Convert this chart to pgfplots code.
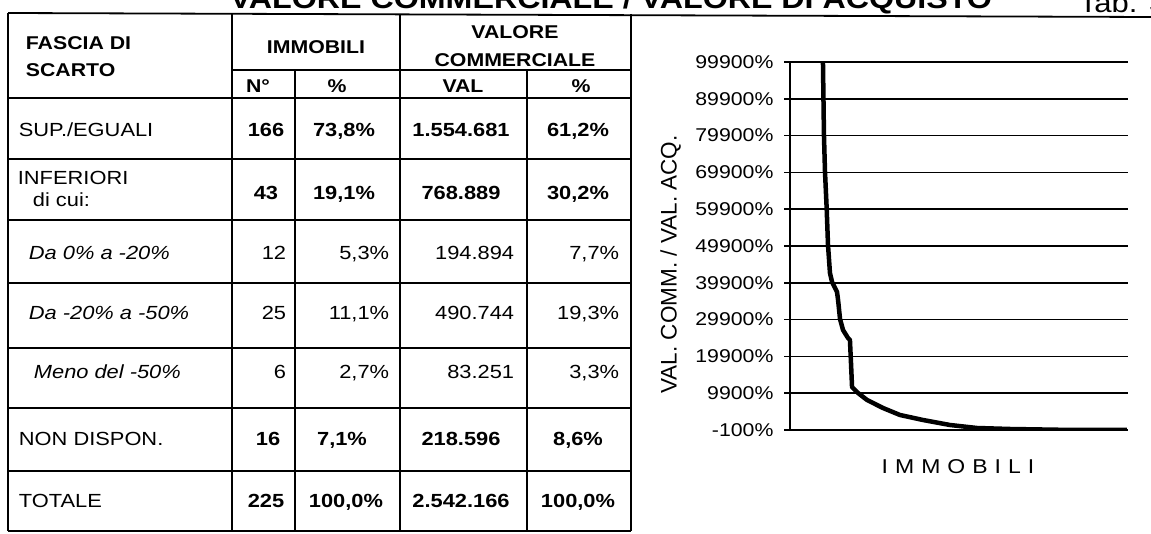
\documentclass[border=0pt]{standalone}
\usepackage{fontspec}
\setmainfont{Liberation Sans}[FakeStretch=1.15]
\newfontfamily\plainsans{Liberation Sans}
\usepackage{pgfplots}
\pgfplotsset{compat=1.18}

\newcommand\fs[1]{\fontsize{#1}{#1}\selectfont}

\begin{document}
\begin{tikzpicture}
\begin{scope}[x=1pt,y=-1pt,line width=1.8pt,every node/.style={inner sep=0pt,font=\fs{19}}]
% title (cut at the top edge, as in the scan)
\node[anchor=base west,font=\fs{28}\bfseries] at (229,9) {VALORE COMMERCIALE / VALORE DI ACQUISTO};
\node[anchor=base west,font=\fs{27}] at (1078,13) {Tab. 3};
% table grid
\draw (8,13) -- (1151,17);
\draw (8,13) -- (8,531);
\foreach \x in {232,400,631} \draw (\x,14) -- (\x,531);
\foreach \x in {295,527} \draw (\x,70) -- (\x,531);
\draw (232,70) -- (631,70);
\foreach \y in {98,159,220,283,348,408,471,531} \draw (8,\y) -- (631,\y);
% header
\begin{scope}[every node/.append style={font=\fs{18.5}\bfseries}]
\node[anchor=base west] at (25,50) {FASCIA DI};
\node[anchor=base west] at (25,77) {SCARTO};
\node[anchor=base] at (316,53.5) {IMMOBILI};
\node[anchor=base] at (515,38.5) {VALORE};
\node[anchor=base] at (515,66.5) {COMMERCIALE};
\node[anchor=base] at (258,92.5) {N°};
\node[anchor=base] at (337,92.5) {\%};
\node[anchor=base] at (463,92.5) {VAL};
\node[anchor=base] at (581,92.5) {\%};
\end{scope}
% rows
\node[anchor=base west] at (18,136.5) {SUP./EGUALI};
\node[anchor=base west] at (17,185) {INFERIORI};
\node[anchor=base west] at (32,207) {di cui:};
\node[anchor=base west,font=\fs{19}\itshape] at (28,259.5) {Da 0\% a -20\%};
\node[anchor=base west,font=\fs{19}\itshape] at (28,319.5) {Da -20\% a -50\%};
\node[anchor=base west,font=\fs{19}\itshape] at (33,378.5) {Meno del -50\%};
\node[anchor=base west] at (18,445.5) {NON DISPON.};
\node[anchor=base west] at (18,507.5) {TOTALE};
\begin{scope}[every node/.append style={font=\fs{19}\bfseries,anchor=base}]
\node at (266,136.5) {166}; \node at (344,136.5) {73,8\%};
\node at (461,136.5) {1.554.681}; \node at (578,136.5) {61,2\%};
\node at (266,199.5) {43}; \node at (344,199.5) {19,1\%};
\node at (461,199.5) {768.889}; \node at (578,199.5) {30,2\%};
\node at (268,445.5) {16}; \node at (342,445.5) {7,1\%};
\node at (461,445.5) {218.596}; \node at (578,445.5) {8,6\%};
\node at (266,507.5) {225}; \node at (346,507.5) {100,0\%};
\node at (461,507.5) {2.542.166}; \node at (578,507.5) {100,0\%};
\end{scope}
\begin{scope}[every node/.append style={anchor=base east}]
\node at (287,259.5) {12}; \node at (390,259.5) {5,3\%};
\node at (515,259.5) {194.894}; \node at (620,259.5) {7,7\%};
\node at (287,319.5) {25}; \node at (390,319.5) {11,1\%};
\node at (515,319.5) {490.744}; \node at (620,319.5) {19,3\%};
\node at (287,378.5) {6}; \node at (390,378.5) {2,7\%};
\node at (515,378.5) {83.251}; \node at (620,378.5) {3,3\%};
\end{scope}
\end{scope}

\begin{axis}[
  at={(790pt,-430pt)}, anchor=south west,
  scale only axis, width=338pt, height=368pt,
  xmin=0, xmax=225, ymin=-100, ymax=99900,
  axis lines*=left,
  axis line style={black,line width=2pt},
  xtick=\empty,
  scaled y ticks=false,
  ytick={-100,9900,19900,29900,39900,49900,59900,69900,79900,89900,99900},
  yticklabels={-100\%,9900\%,19900\%,29900\%,39900\%,49900\%,59900\%,69900\%,79900\%,89900\%,99900\%},
  ymajorgrids,
  grid style={black,line width=1.6pt},
  tick align=outside, major tick length=6pt,
  ytick style={black,line width=1.6pt},
  tick label style={font=\fs{18.5}},
  yticklabel style={xshift=-7pt},
  ylabel={VAL. COMM. / VAL. ACQ.},
  ylabel style={font=\plainsans\fs{22.5},at={(axis description cs:-0.353,0.45)},anchor=center},
  xlabel={I\hspace{7pt}M\hspace{7pt}M\hspace{7pt}O\hspace{7pt}B\hspace{7pt}I\hspace{7pt}L\hspace{7pt}I},
  xlabel style={font=\fs{20},at={(axis description cs:0.497,-0.1005)},anchor=center},
]
\addplot[black,line width=4.5pt,line join=round] coordinates {
  (21.8,104000) (22.6,80050) (23.3,70000) (24.4,60220) (25.3,50160)
  (26.6,42560) (28.0,40110) (31.3,37390) (32.0,35220) (33.3,30060)
  (35.3,27070) (38.6,24900) (39.9,24350) (40.6,18100) (41.3,11580)
  (45.3,9950) (51.3,8050) (61.9,5880) (73.2,3980) (88.5,2620)
  (106.5,1260) (124.5,443) (146.5,172) (179.7,-40) (224.3,-100)
};
\end{axis}
\pgfresetboundingbox
\path[use as bounding box] (0pt,0pt) rectangle (1151pt,-534pt);
\end{tikzpicture}
\end{document}
